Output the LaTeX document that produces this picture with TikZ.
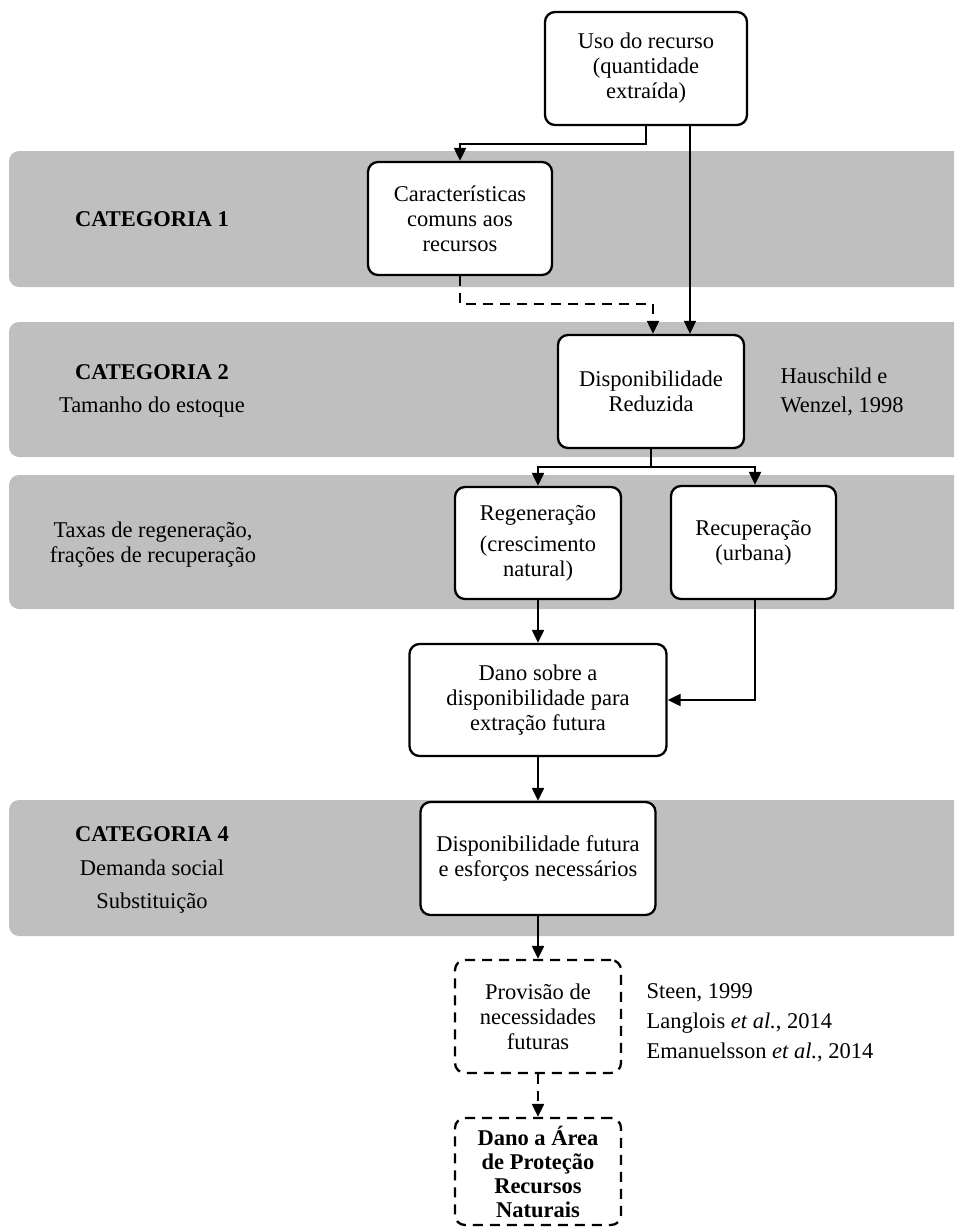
\documentclass[tikz,border=0pt]{standalone}
\usepackage{fontspec}
\setmainfont{Liberation Serif}
\usetikzlibrary{arrows.meta}
\begin{document}
\begin{tikzpicture}[x=1pt,y=-1pt,
  band/.style={fill=gray!50, rounded corners=10pt},
  txt/.style={font=\fontsize{22.5}{25}\selectfont},
  box/.style={txt, draw, line width=2.3pt, rounded corners=10pt, fill=white,
    align=center, inner sep=0pt},
  dbox/.style={box, dash pattern=on 10pt off 7pt},
  lbl/.style={txt, anchor=base},
  ref/.style={txt, anchor=base west},
  conn/.style={line width=2.1pt, -{Triangle[length=13pt,width=12pt]}},
  dconn/.style={conn, dash pattern=on 10pt off 7pt},
]
\useasboundingbox (0,0) rectangle (954,1228);
\clip (0,0) rectangle (954,1228);

% category bands
\fill[band] (9,151) rectangle (990,287);
\fill[band] (9,322) rectangle (990,457);
\fill[band] (9,475) rectangle (990,609);
\fill[band] (9,800) rectangle (990,936);

% band labels
\node[lbl, font=\fontsize{22.5}{25}\selectfont\bfseries] (c1) at (152,226) {CATEGORIA 1};
\node[lbl, font=\fontsize{22.5}{25}\selectfont\bfseries] (c2) at (152,379) {CATEGORIA 2};
\node[lbl] (c2b) at (152,412) {Tamanho do estoque};
\node[lbl] (c3a) at (153,537) {Taxas de regeneração,};
\node[lbl] (c3b) at (153,562) {frações de recuperação};
\node[lbl, font=\fontsize{22.5}{25}\selectfont\bfseries] (c4) at (152,841) {CATEGORIA 4};
\node[lbl] (c4b) at (152,875) {Demanda social};
\node[lbl] (c4c) at (152,908) {Substituição};

% flow boxes
\node[box, minimum width=202pt, minimum height=113pt] (uso) at (646,68.5)
  {Uso do recurso\\(quantidade\\extraída)};
\node[box, minimum width=184pt, minimum height=113pt] (car) at (460,218.5)
  {Características\\comuns aos\\recursos};
\node[box, minimum width=186pt, minimum height=113pt] (dr) at (651,391.5)
  {Disponibilidade\\Reduzida};
\node[box, minimum width=166pt, minimum height=112pt] (reg) at (538,543)
  {Regeneração\\[6pt](crescimento\\natural)};
\node[box, minimum width=165pt, minimum height=113pt] (rec) at (753.5,542.5)
  {Recuperação\\(urbana)};
\node[box, minimum width=257pt, minimum height=112pt] (dano) at (538,700)
  {Dano sobre a\\disponibilidade para\\extração futura};
\node[box, minimum width=235pt, minimum height=113pt] (df) at (538,858.5)
  {Disponibilidade futura\\e esforços necessários};
\node[dbox, minimum width=166pt, minimum height=113pt] (prov) at (538,1016.5)
  {Provisão de\\necessidades\\futuras};
\node[dbox, minimum width=166pt, minimum height=107pt,
  font=\fontsize{22.5}{24}\selectfont\bfseries] (apn) at (538,1171.5)
  {Dano a Área\\de Proteção\\Recursos\\Naturais};

% references
\node[ref] (hw1) at (777,383) {Hauschild e};
\node[ref] (hw2) at (777,412) {Wenzel, 1998};
\node[ref] (r1) at (643,998) {Steen, 1999};
\node[ref] (r2) at (643,1028) {Langlois \textit{et al.}, 2014};
\node[ref] (r3) at (643,1058) {Emanuelsson \textit{et al.}, 2014};

% connectors
\draw[conn] (uso.south) -- ++(0,18) -| (car.north);
\draw[conn, line width=1.6pt] ([xshift=44pt]uso.south) -- ([xshift=44pt]uso.south |- dr.north);
\coordinate (dj) at (653,304);
\draw[dconn] (car.south) |- (dj) -- (dj |- dr.north);
\draw[line width=2.1pt] (dr.south) -- ++(0,18) coordinate (br);
\draw[conn] (br) -| (reg.north);
\draw[conn] (br) -| ([xshift=1.5pt]rec.north);
\draw[conn] (reg.south) -- (dano.north);
\draw[conn] ([xshift=1.5pt]rec.south) |- (dano.east);
\draw[conn] (dano.south) -- (df.north);
\draw[conn] (df.south) -- (prov.north);
\draw[dconn] (prov.south) -- (apn.north);
\end{tikzpicture}
\end{document}
